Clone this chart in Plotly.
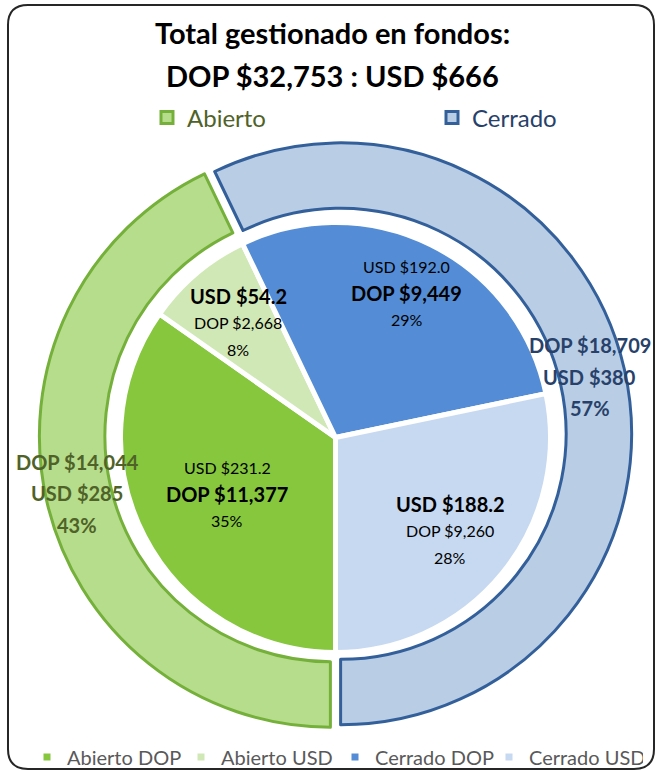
import math
import plotly.graph_objects as go

# ---------------- data ----------------
title_line1 = "Total gestionado en fondos:"
title_line2 = "DOP $32,753 : USD $666"

outer_labels = ["Abierto", "Cerrado"]
outer_dop = [14044, 18709]
outer_usd = [285, 380]
outer_pct = [43, 57]

inner_labels = ["Abierto DOP", "Abierto USD", "Cerrado DOP", "Cerrado USD"]
inner_dop = [11377, 2668, 9449, 9260]
inner_usd = [231.2, 54.2, 192.0, 188.2]
inner_pct = [35, 8, 29, 28]
inner_emph = ["DOP", "USD", "DOP", "USD"]

# ---------------- style ----------------
W, H = 660, 772
FONT = "Lato"
outer_fill = ["#B6DD8C", "#B9CDE5"]
outer_line = ["#74B03A", "#33609A"]
outer_text = ["#4F6228", "#27416A"]
inner_fill = ["#86C73E", "#D0E8B5", "#548DD5", "#C6D9F1"]

pie_c = (335.5, 437.5)   # px
pie_r = 215
ring_c = (335.5, 435.0)
ring_r = 291
ring_hole = 0.775
ring_pull = 0.018
inner_label_r = [0.568, 0.70, 0.75, 0.687]
outer_label_r = 263


def px2paper(x, y):
    return x / W, 1 - y / H


def domain(c, half):
    x0, y0 = px2paper(c[0] - half, c[1] + half)
    x1, y1 = px2paper(c[0] + half, c[1] - half)
    return dict(x=[x0, x1], y=[y0, y1])


def mid_angles(vals):
    tot = sum(vals)
    out, cum = [], 0
    for v in vals:
        out.append(180 + 360 * (cum + v / 2) / tot)
        cum += v
    return out


fig = go.Figure()

fig.add_trace(go.Pie(
    labels=[f"<span style='color:{c}'>{l}</span>" for l, c in zip(outer_labels, outer_text)],
    values=outer_dop,
    sort=False, direction="clockwise", rotation=180,
    hole=ring_hole, pull=ring_pull,
    marker=dict(colors=outer_fill, line=dict(color=outer_line, width=3)),
    textinfo="none", hoverinfo="label+value+percent",
    domain=domain(ring_c, ring_r * (1 + ring_pull)),
    legend="legend",
))

fig.add_trace(go.Pie(
    labels=inner_labels,
    values=inner_dop,
    sort=False, direction="clockwise", rotation=180,
    marker=dict(colors=inner_fill, line=dict(color="white", width=5)),
    textinfo="none", hoverinfo="label+value+percent",
    domain=domain(pie_c, pie_r),
    legend="legend2",
))

annotations = []
# title
for txt, yy in [(title_line1, 32), (title_line2, 75)]:
    x, y = px2paper(W / 2 + 2, yy)
    annotations.append(dict(text=f"<b>{txt}</b>", x=x, y=y, xref="paper", yref="paper",
                            showarrow=False, xanchor="center", yanchor="middle",
                            font=dict(family=FONT, size=29, color="#000000")))

# inner labels
for i, a in enumerate(mid_angles(inner_dop)):
    rr = inner_label_r[i] * pie_r
    cx = pie_c[0] + rr * math.sin(math.radians(a))
    cy = pie_c[1] - rr * math.cos(math.radians(a))
    usd = f"USD ${inner_usd[i]:.1f}"
    dop = f"DOP ${inner_dop[i]:,}"
    lines = [(usd, inner_emph[i] == "USD"), (dop, inner_emph[i] == "DOP"), (f"{inner_pct[i]}%", False)]
    for k, (t, b) in enumerate(lines):
        x, y = px2paper(cx, cy + (k - 1) * 26.5)
        annotations.append(dict(text=f"<b>{t}</b>" if b else t, x=x, y=y, xref="paper", yref="paper",
                                showarrow=False, xanchor="center", yanchor="middle",
                                font=dict(family=FONT, size=20 if b else 16, color="#000000")))

# outer labels
for i, a in enumerate(mid_angles(outer_dop)):
    cx = ring_c[0] + outer_label_r * math.sin(math.radians(a))
    cy = ring_c[1] - outer_label_r * math.cos(math.radians(a))
    lines = [f"DOP ${outer_dop[i]:,}", f"USD ${outer_usd[i]}", f"{outer_pct[i]}%"]
    for k, t in enumerate(lines):
        x, y = px2paper(cx - 2, cy + (k - 1) * 31.5)
        annotations.append(dict(text=f"<b>{t}</b>", x=x, y=y, xref="paper", yref="paper",
                                showarrow=False, xanchor="center", yanchor="middle",
                                font=dict(family=FONT, size=20, color=outer_text[i])))

# rounded frame
fx0, fy0, fx1, fy1, rad = 8, 5, 654, 769, 20
def P(x, y):
    px, py = px2paper(x, y)
    return f"{px:.5f},{py:.5f}"
frame_path = (f"M {P(fx0 + rad, fy0)} L {P(fx1 - rad, fy0)} Q {P(fx1, fy0)} {P(fx1, fy0 + rad)} "
              f"L {P(fx1, fy1 - rad)} Q {P(fx1, fy1)} {P(fx1 - rad, fy1)} "
              f"L {P(fx0 + rad, fy1)} Q {P(fx0, fy1)} {P(fx0, fy1 - rad)} "
              f"L {P(fx0, fy0 + rad)} Q {P(fx0, fy0)} {P(fx0 + rad, fy0)} Z")

lx1, ly1 = px2paper(147, 118)
lx2, ly2 = px2paper(27, 757)

fig.update_layout(
    width=W, height=H, autosize=False,
    margin=dict(l=0, r=0, t=0, b=0, autoexpand=False),
    paper_bgcolor="white", plot_bgcolor="white",
    font=dict(family=FONT),
    annotations=annotations,
    shapes=[dict(type="path", path=frame_path, xref="paper", yref="paper",
                 line=dict(color="#262626", width=2), fillcolor="rgba(0,0,0,0)", layer="above")],
    legend=dict(orientation="h", x=lx1, y=ly1, xanchor="left", yanchor="middle",
                font=dict(family=FONT, size=24, color="#4F6228"),
                bgcolor="rgba(0,0,0,0)", entrywidth=240, entrywidthmode="pixels",
                itemwidth=30, traceorder="normal"),
    legend2=dict(orientation="h", x=lx2, y=ly2, xanchor="left", yanchor="middle",
                 font=dict(family=FONT, size=20, color="#595959"),
                 bgcolor="rgba(0,0,0,0)", entrywidth=109, entrywidthmode="pixels",
                 itemwidth=30, traceorder="normal"),
)

fig.write_html("out.html", config={"displayModeBar": False},
               post_script="document.body.style.margin='0';document.body.style.overflow='hidden';")
